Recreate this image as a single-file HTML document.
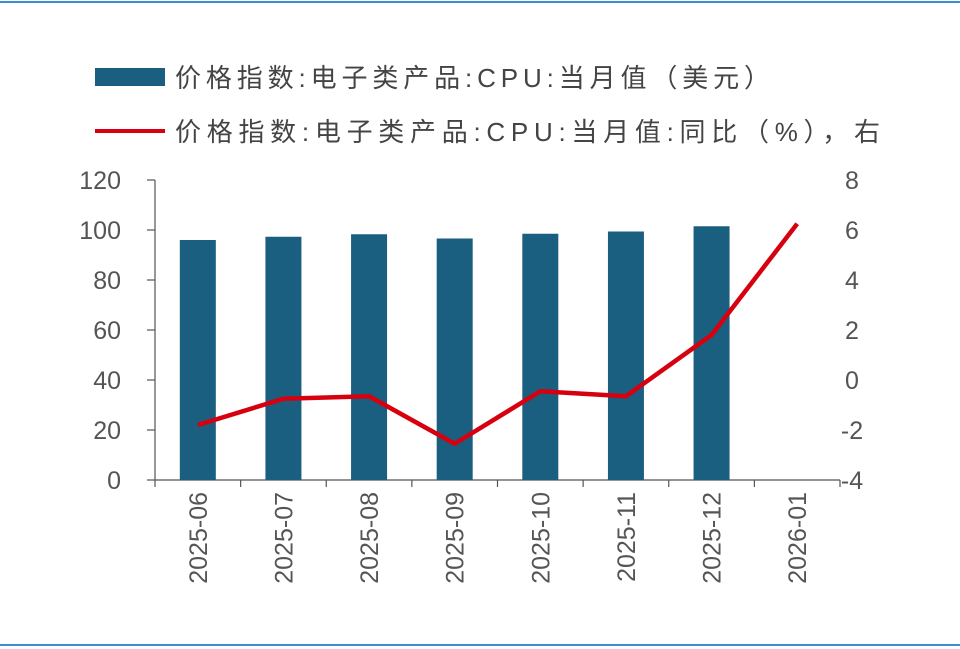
<!DOCTYPE html>
<html><head><meta charset="utf-8"><style>
html,body{margin:0;padding:0;background:#fff;}
svg{display:block;font-family:"Liberation Sans","Noto Sans CJK SC",sans-serif;}
</style></head><body>
<svg id="chart" width="960" height="649">
<line x1="0" y1="2" x2="960" y2="2" stroke="#3a8fd0" stroke-width="2"/>
<line x1="0" y1="645" x2="960" y2="645" stroke="#3a8fd0" stroke-width="2"/>
<g>
<rect x="95" y="68" width="70" height="18" fill="#1a5e80"/>
<text x="175" y="87" font-size="26" fill="#444" textLength="595" lengthAdjust="spacing">价格指数:电子类产品:CPU:当月值（美元）</text>
<line x1="95" y1="131" x2="165" y2="131" stroke="#d7000f" stroke-width="4"/>
<text x="175" y="141" font-size="26" fill="#444" textLength="705" lengthAdjust="spacing">价格指数:电子类产品:CPU:当月值:同比（%），右</text>
</g>
<g id="axes"></g>
<g id="marks"></g>
</svg>
<script>
const categories=["2025-06","2025-07","2025-08","2025-09","2025-10","2025-11","2025-12","2026-01"];
const barValues=[96,97.3,98.3,96.6,98.5,99.4,101.5,null];
const lineValues=[-1.8,-0.75,-0.65,-2.55,-0.45,-0.65,1.8,6.25];
const leftTicks=[0,20,40,60,80,100,120];
const rightTicks=[-4,-2,0,2,4,6,8];

const NS="http://www.w3.org/2000/svg";
const x0=155,x1=840,yTop=180,yBot=480;
const band=(x1-x0)/categories.length;
function xc(i){return x0+band*(i+0.5);}
function yL(v){return yBot-(v-0)/120*(yBot-yTop);}
function yR(v){return yBot-(v+4)/12*(yBot-yTop);}
function mk(tag,attrs,parent){const e=document.createElementNS(NS,tag);for(const k in attrs)e.setAttribute(k,attrs[k]);parent.appendChild(e);return e;}
const axes=document.getElementById('axes'),marks=document.getElementById('marks');

let a=mk('line',{x1:x0,y1:yTop,x2:x0,y2:yBot,stroke:'#555','stroke-width':1.2},axes);


a=mk('line',{x1:x0,y1:yBot,x2:x1,y2:yBot,stroke:'#555','stroke-width':1.2},axes);


leftTicks.forEach(v=>{
 const t=mk('line',{x1:x0-8,y1:yL(v),x2:x0,y2:yL(v),stroke:'#555','stroke-width':1.2},axes);
 
 
 const l=mk('text',{x:x0-34,y:yL(v)+9,'font-size':25,fill:'#555','text-anchor':'end'},axes);
 l.textContent=v;
 
 
});
rightTicks.forEach(v=>{
 const l=mk('text',{x:852,y:yR(v)+9,'font-size':25,fill:'#555','text-anchor':'middle'},axes);
 l.textContent=v;
 
 
});
for(let i=0;i<=categories.length;i++){
 const t=mk('line',{x1:x0+band*i,y1:yBot,x2:x0+band*i,y2:yBot+7,stroke:'#555','stroke-width':1.2},axes);
 
 
}
categories.forEach((c,i)=>{
 const l=mk('text',{x:0,y:0,'font-size':25,fill:'#555','text-anchor':'end',transform:`translate(${xc(i)+9},${yBot+12}) rotate(-90)`},axes);
 l.textContent=c;
 
 
});
barValues.forEach((v,i)=>{
 if(v==null)return;
 const b=mk('rect',{x:xc(i)-18,y:yL(v),width:36,height:yBot-yL(v),fill:'#1a5e80'},marks);
 
 
});
const pts=lineValues.map((v,i)=>xc(i)+','+yR(v)).join(' ');
const pl=mk('polyline',{points:pts,fill:'none',stroke:'#d7000f','stroke-width':4.5,'stroke-linejoin':'round'},marks);


</script>
</body></html>
